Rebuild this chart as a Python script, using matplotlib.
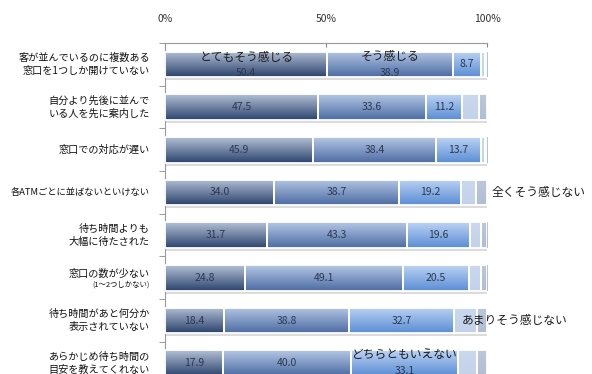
import numpy as np
import matplotlib.pyplot as plt
from matplotlib.colors import LinearSegmentedColormap

plt.rcParams['font.family'] = ['Noto Sans CJK JP', 'DejaVu Sans']

# survey items, top to bottom
categories = [
    "客が並んでいるのに複数ある\n窓口を1つしか開けていない",
    "自分より先後に並んで\nいる人を先に案内した",
    "窓口での対応が遅い",
    "各ATMごとに並ばないといけない",
    "待ち時間よりも\n大幅に待たされた",
    "窓口の数が少ない",
    "待ち時間があと何分か\n表示されていない",
    "あらかじめ待ち時間の\n目安を教えてくれない",
]
sub_note = "(1〜2つしかない)"  # small second line under item 6

# answer shares (%)
very_much = [50.4, 47.5, 45.9, 34.0, 31.7, 24.8, 18.4, 17.9]
somewhat = [38.9, 33.6, 38.4, 38.7, 43.3, 49.1, 38.8, 40.0]
neutral = [8.7, 11.2, 13.7, 19.2, 19.6, 20.5, 32.7, 33.1]
not_much = [1.3, 5.3, 1.3, 4.8, 3.4, 3.6, 7.0, 6.0]
not_at_all = [0.7, 2.4, 0.7, 3.3, 2.0, 2.0, 3.1, 3.0]

series_names = ["とてもそう感じる", "そう感じる", "どちらともいえない",
                "あまりそう感じない", "全くそう感じない"]
tick_vals = [0, 50, 100]
tick_labels = ["0%", "50%", "100%"]

# (top colour, bottom colour) for each segment gradient
grads = [("#b3c0d6", "#2c446d"),
         ("#b4c6e4", "#4c6ca3"),
         ("#bcd3f2", "#5a8dd5"),
         ("#cbd8ee", "#c3d2ea"),
         ("#bcc7da", "#b0bdd3")]

fig = plt.figure(figsize=(5.92, 3.74), dpi=100)
ax = fig.add_axes([165 / 592, 1 - (43 + 8 * 42.7) / 374, 322 / 592, 8 * 42.7 / 374])

n = len(categories)
y = np.arange(n) + 0.5
h = 0.6
series = [very_much, somewhat, neutral, not_much, not_at_all]
totals = np.sum(series, axis=0)

# soft shadow under every bar
ax.barh(y + 0.07, totals, height=h, color="#dcdcdc", zorder=1)

left = np.zeros(n)
grad = np.linspace(0, 1, 64).reshape(-1, 1)
for vals, (c_top, c_bot) in zip(series, grads):
    vals = np.array(vals)
    cmap = LinearSegmentedColormap.from_list("g", [c_top, c_bot])
    bars = ax.barh(y, vals, left=left, height=h, color=c_bot, zorder=2)
    for rect, yc, x0, v in zip(bars, y, left, vals):
        im = ax.imshow(grad, extent=(x0, x0 + v, yc + h / 2, yc - h / 2),
                       aspect="auto", cmap=cmap, zorder=2.5, origin="upper")
        im.set_clip_path(rect)
    ax.barh(y, vals, left=left, height=h, facecolor="none",
            edgecolor="white", linewidth=1.3, zorder=3)
    left = left + vals

# value labels for the first three answers
left = np.zeros(n)
for k, vals in enumerate(series[:3]):
    for i, v in enumerate(vals):
        dy = 0
        if i == 0 and k < 2:
            dy = 0.21
        elif i == n - 1 and k == 2:
            dy = 0.17
        ax.text(left[i] + v / 2, y[i] + dy, f"{v:.1f}", ha="center", va="center",
                fontsize=7.5, color="#2b3852", zorder=4, clip_on=False)
    left = left + np.array(vals)

# in-plot series names
ax.text(very_much[0] / 2, y[0] - 0.17, series_names[0], ha="center", va="center",
        fontsize=8.5, color="#1a1a1a", zorder=5)
ax.text(very_much[0] + somewhat[0] / 2, y[0] - 0.19, series_names[1], ha="center",
        va="center", fontsize=8.5, color="#1a1a1a", zorder=5)
ax.text(very_much[7] + somewhat[7] + neutral[7] / 2, y[7] - 0.2, series_names[2],
        ha="center", va="center", fontsize=8.5, color="#1a1a1a", zorder=5, clip_on=False)
ax.text(92.2, y[6], series_names[3], ha="left", va="center",
        fontsize=8.5, color="#1a1a1a", zorder=5, clip_on=False)
ax.text(101.3, y[3], series_names[4], ha="left", va="center",
        fontsize=8.5, color="#1a1a1a", zorder=5, clip_on=False)

# category labels
for i, cat in enumerate(categories):
    if i == 5:
        ax.text(-4.7, y[i] - 0.1, cat, ha="right", va="center", fontsize=7.3,
                color="#111111", clip_on=False)
        ax.text(-4.7, y[i] + 0.15, sub_note, ha="right", va="center", fontsize=5.3,
                color="#111111", clip_on=False)
    else:
        fs = 6.7 if i == 3 else 7.3
        ax.text(-4.7, y[i], cat, ha="right", va="center", fontsize=fs,
                color="#111111", linespacing=1.35, clip_on=False)

ax.set_xlim(0, 100)
ax.set_ylim(n, 0)
ax.set_xticks(tick_vals)
ax.set_xticklabels(tick_labels)
ax.xaxis.tick_top()
ax.tick_params(axis="x", direction="in", length=3, pad=14, labelsize=7.5,
               colors="#888888", labelcolor="#333333")
ax.set_yticks([])
ax.set_yticks(np.arange(n + 1), minor=True)
ax.tick_params(axis="y", which="minor", direction="out", length=4, color="#888888")
for side in ["right", "bottom"]:
    ax.spines[side].set_visible(False)
for side in ["top", "left"]:
    ax.spines[side].set_color("#999999")
    ax.spines[side].set_linewidth(0.8)

fig.savefig("out.png", dpi=100)
